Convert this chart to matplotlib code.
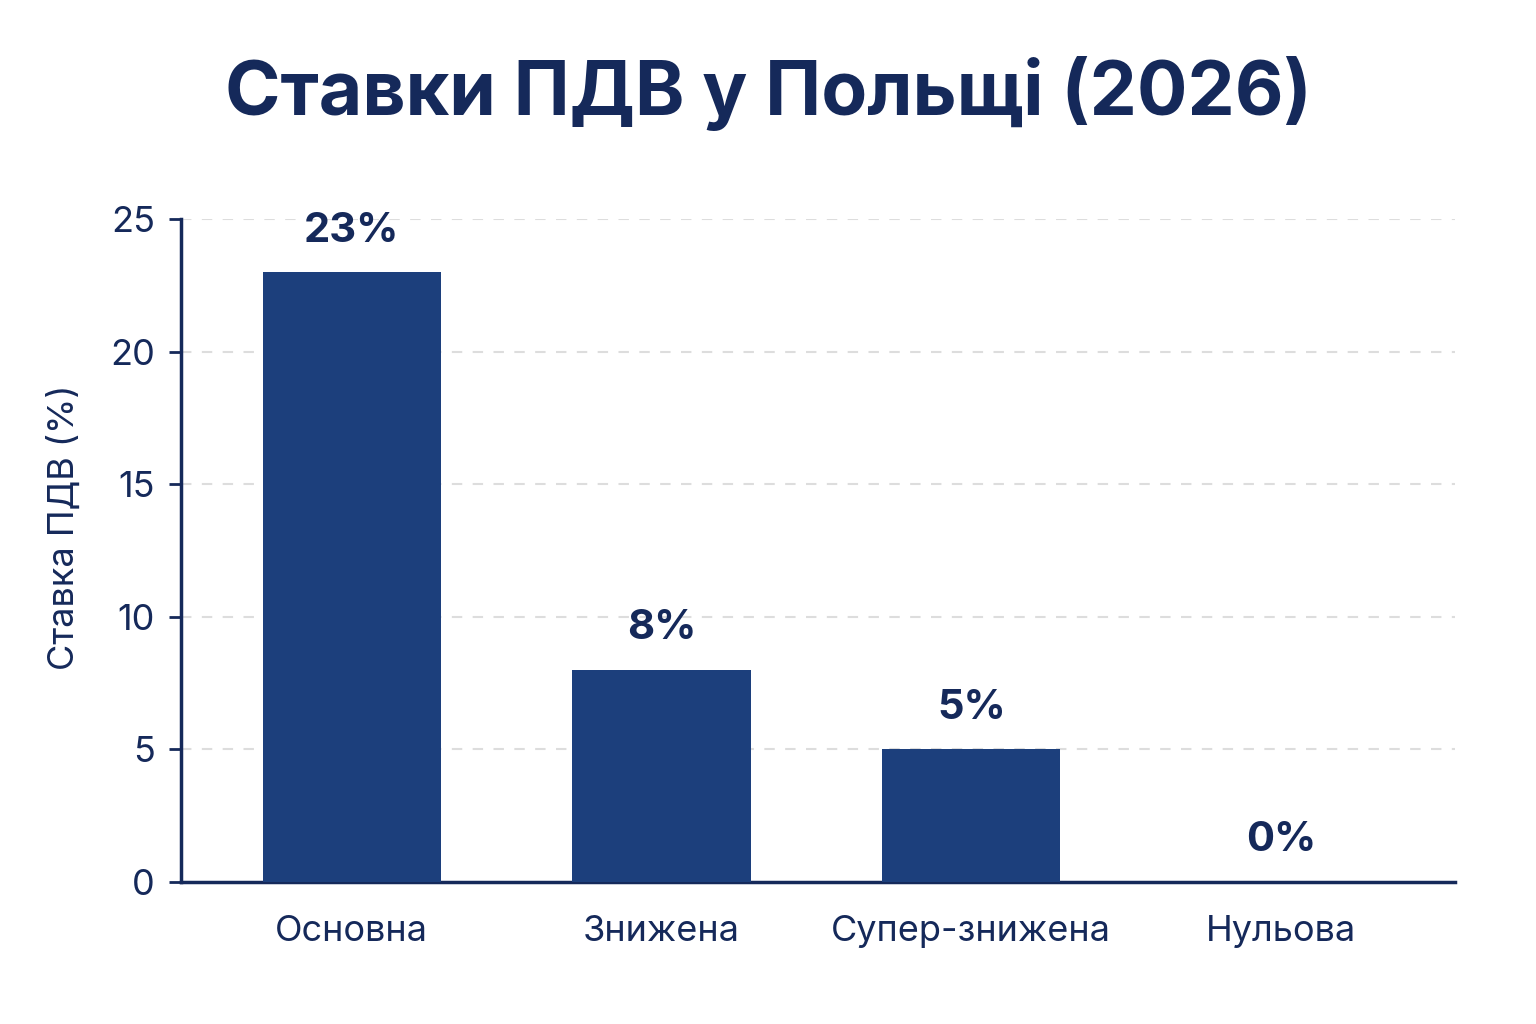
import matplotlib.pyplot as plt

# Дані
categories = ["Основна", "Знижена", "Супер-знижена", "Нульова"]
rates = [23, 8, 5, 0]
labels = ["23%", "8%", "5%", "0%"]
y_ticks = [0, 5, 10, 15, 20, 25]

NAVY = "#15295a"
BAR = "#1c3f7c"

plt.rcParams['font.family'] = ['Inter', 'DejaVu Sans']

fig = plt.figure(figsize=(15.36, 10.24), dpi=100)
ax = fig.add_axes([0.118, 0.139, 0.829, 0.647])

x = list(range(len(categories)))
ax.bar(x, rates, width=0.575, color=BAR, zorder=3)

for xi, r, lab in zip(x, rates, labels):
    ax.text(xi, r + 0.85, lab, ha='center', va='bottom', fontsize=30,
            fontweight='bold', color=NAVY)

ax.set_xlim(-0.55, 3.56)
ax.set_ylim(0, 25)
ax.set_yticks(y_ticks)
ax.set_xticks(x)
ax.set_xticklabels(categories)
ax.tick_params(axis='x', length=0, pad=24, labelsize=26, labelcolor=NAVY)
ax.tick_params(axis='y', length=9, width=2, color=NAVY, pad=10,
               labelsize=26, labelcolor=NAVY)

ax.yaxis.grid(True, linestyle=(0, (5, 5)), color='#dddddd', linewidth=1.5, zorder=0)
for s in ['top', 'right']:
    ax.spines[s].set_visible(False)
for s in ['left', 'bottom']:
    ax.spines[s].set_color(NAVY)
    ax.spines[s].set_linewidth(2.5)

ax.set_ylabel("Ставка ПДВ (%)", fontsize=26, color=NAVY)
ax.yaxis.set_label_coords(-0.079, 0.535)

fig.text(0.5, 0.909, "Ставки ПДВ у Польщі (2026)", ha='center', va='center',
         fontsize=54, fontweight='bold', color=NAVY)

fig.savefig("out.png", dpi=100, facecolor='white')
